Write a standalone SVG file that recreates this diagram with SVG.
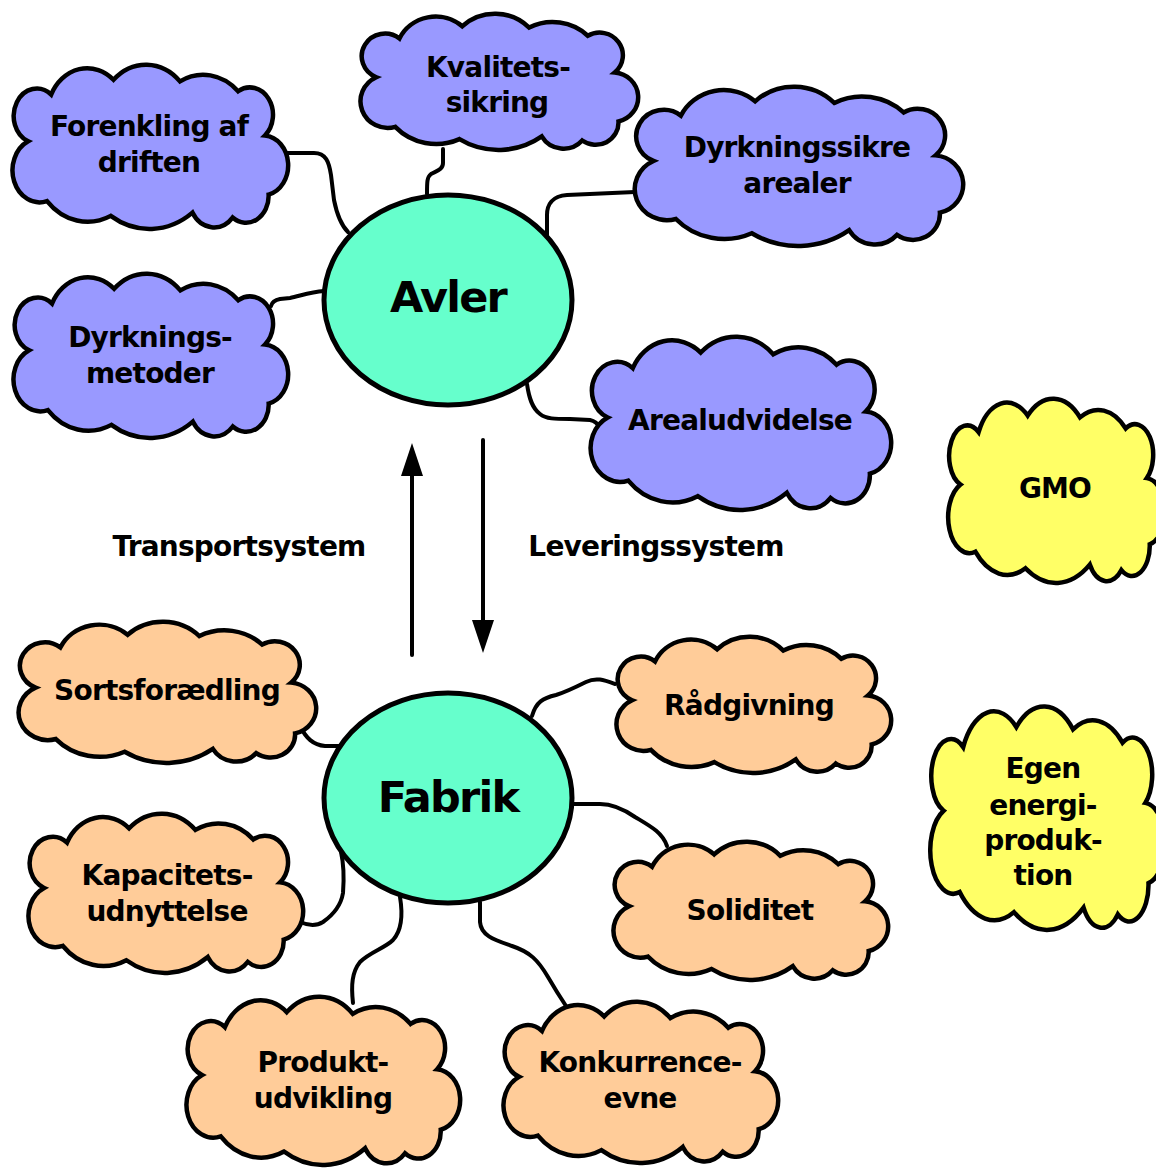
<svg xmlns="http://www.w3.org/2000/svg" xmlns:xlink="http://www.w3.org/1999/xlink" width="1156" height="1168" viewBox="0 0 1156 1168">
<style>
.blue{fill:#9999FF;stroke:#000;stroke-width:4.5}
.orange{fill:#FFCC99;stroke:#000;stroke-width:4.5}
.yellow{fill:#FFFF66;stroke:#000;stroke-width:4.5}
.ell{fill:#66FFCC;stroke:#000;stroke-width:5}
.t{font-family:"DejaVu Sans","Liberation Sans",sans-serif;font-weight:bold;font-size:28px;letter-spacing:-0.8px;text-anchor:middle;fill:#000}
.big{font-size:43px;letter-spacing:-1.8px}
.conn{fill:none;stroke:#000;stroke-width:4;stroke-linecap:round;stroke-linejoin:round}
.arr{fill:none;stroke:#000;stroke-width:4;stroke-linecap:round}
</style>
<defs>
<symbol id="cloud" viewBox="0 0 300 150" preserveAspectRatio="none" overflow="visible">
<path vector-effect="non-scaling-stroke" d="M18.6,69.75 A25,25 0 1 1 43.5,27 A43.6,43.6 0 0 1 111,13.5 A51.9,51.9 0 0 1 183,15 A55,55 0 0 1 246,24 A25,25 0 0 1 275,64.5 A27.4,27.4 0 0 1 279,118.5 A24.5,24.5 0 0 1 240,139.5 A27,27 0 0 1 196.5,135 A79.8,79.8 0 0 1 108,138 A60.6,60.6 0 0 1 39,124.5 A29.3,29.3 0 0 1 18.6,69.75 Z"/>
</symbol>
<marker id="ah" viewBox="0 0 33 22" markerUnits="userSpaceOnUse" markerWidth="33" markerHeight="22" refX="0" refY="11" orient="auto">
<path d="M0,0 L33,11 L0,22 Z" fill="#000"/>
</marker>
</defs>

<g id="connectors">
<path class="conn" d="M287,153 L314,153 C326,153 329,162 331,175 L334,200 C337,215 341,225 348,232"/>
<path class="conn" d="M443,149 L443,163 C443,170 436,171 431,174 C427,177 427,182 427,194"/>
<path class="conn" d="M635,192 L567,195 C552,196 547,205 547,215 L547,235"/>
<path class="conn" d="M324,291 C310,292 300,296 290,298 L280,299 C275,300 272,302 271,306"/>
<path class="conn" d="M527,384 C529,398 532,408 540,414 C546,419 555,419 570,419 L590,420 C595,421 598,424 600,428"/>
<path class="conn" d="M300,726 C306,738 313,745 325,746 L340,746"/>
<path class="conn" d="M532,716 C536,702 543,698 556,695 C566,692 574,688 586,682 C596,677 604,680 615,684"/>
<path class="conn" d="M571,804 L600,804 C612,804 622,808 635,817 C650,826 662,832 667,846"/>
<path class="conn" d="M341,852 C344,865 344,880 343,893 C341,905 333,915 323,922 C315,927 307,925 300,922"/>
<path class="conn" d="M400,897 C403,915 402,930 393,940 C385,948 370,952 360,962 C352,972 351,985 353,1003"/>
<path class="conn" d="M480,902 L480,922 C481,936 495,940 512,946 C530,952 538,960 548,977 C555,989 560,997 566,1006"/>
<path class="arr" d="M412,655 L412,476" marker-end="url(#ah)"/>
<path class="arr" d="M483,440 L483,620" marker-end="url(#ah)"/>
</g>

<g id="label-transport"><text class="t" x="239" y="556">Transportsystem</text></g>
<g id="label-levering"><text class="t" x="656" y="556">Leveringssystem</text></g>

<g id="avler">
<ellipse class="ell" cx="448" cy="300" rx="124" ry="105"/>
<text class="t big" x="448" y="312">Avler</text>
</g>
<g id="fabrik">
<ellipse class="ell" cx="448" cy="798" rx="124" ry="105"/>
<text class="t big" x="448" y="812">Fabrik</text>
</g>

<g id="forenkling">
<use href="#cloud" class="blue" x="11" y="65" width="277" height="164"/>
<text class="t" x="149" y="136">Forenkling af</text>
<text class="t" x="149" y="172">driften</text>
</g>
<g id="kvalitet">
<use href="#cloud" class="blue" x="359" y="14" width="279" height="136"/>
<text class="t" x="498" y="77">Kvalitets-</text>
<text class="t" x="497" y="112">sikring</text>
</g>
<g id="dyrkningssikre">
<use href="#cloud" class="blue" x="633" y="87" width="330" height="159"/>
<text class="t" x="797" y="157">Dyrkningssikre</text>
<text class="t" x="797" y="193">arealer</text>
</g>
<g id="dyrkningsmetoder">
<use href="#cloud" class="blue" x="12" y="274" width="276" height="164"/>
<text class="t" x="150" y="347">Dyrknings-</text>
<text class="t" x="150" y="383">metoder</text>
</g>
<g id="arealudvidelse">
<use href="#cloud" class="blue" x="589" y="337" width="302" height="173"/>
<text class="t" x="740" y="430">Arealudvidelse</text>
</g>
<g id="gmo">
<use href="#cloud" class="yellow" x="947" y="399" width="218" height="184"/>
<text class="t" x="1055" y="498">GMO</text>
</g>
<g id="egen">
<use href="#cloud" class="yellow" x="929" y="707" width="236" height="223"/>
<text class="t" x="1043" y="778">Egen</text>
<text class="t" x="1043" y="815">energi-</text>
<text class="t" x="1043" y="850">produk-</text>
<text class="t" x="1043" y="885">tion</text>
</g>
<g id="sortsforaedling">
<use href="#cloud" class="orange" x="17" y="622" width="299" height="141"/>
<text class="t" x="167" y="700">Sortsforædling</text>
</g>
<g id="raadgivning">
<use href="#cloud" class="orange" x="615" y="637" width="276" height="136"/>
<text class="t" x="749" y="715">Rådgivning</text>
</g>
<g id="kapacitet">
<use href="#cloud" class="orange" x="27" y="814" width="276" height="159"/>
<text class="t" x="167" y="885">Kapacitets-</text>
<text class="t" x="167" y="921">udnyttelse</text>
</g>
<g id="soliditet">
<use href="#cloud" class="orange" x="612" y="842" width="276" height="138"/>
<text class="t" x="750" y="920">Soliditet</text>
</g>
<g id="produkt">
<use href="#cloud" class="orange" x="185" y="997" width="275" height="168"/>
<text class="t" x="323" y="1072">Produkt-</text>
<text class="t" x="323" y="1108">udvikling</text>
</g>
<g id="konkurrence">
<use href="#cloud" class="orange" x="502" y="1002" width="276" height="161"/>
<text class="t" x="640" y="1072">Konkurrence-</text>
<text class="t" x="640" y="1108">evne</text>
</g>
</svg>
